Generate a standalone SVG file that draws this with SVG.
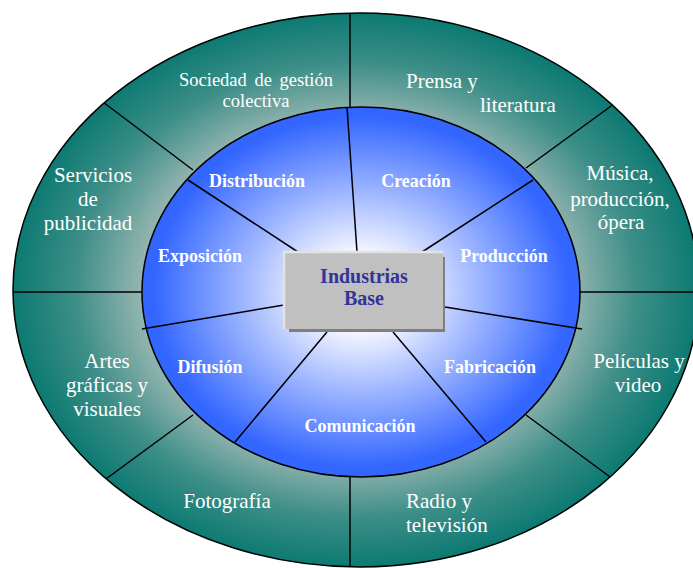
<svg xmlns="http://www.w3.org/2000/svg" width="693" height="568" viewBox="0 0 693 568">
  <defs>
    <radialGradient id="tealGrad" cx="0.5" cy="0.5" r="0.5">
      <stop offset="0" stop-color="#ffffff"/>
      <stop offset="0.6" stop-color="#9bbcb8"/>
      <stop offset="0.66" stop-color="#86aea9"/>
      <stop offset="0.82" stop-color="#3d8e88"/>
      <stop offset="1" stop-color="#0c7a72"/>
    </radialGradient>
    <radialGradient id="blueGrad" cx="0.5" cy="0.5" r="0.5">
      <stop offset="0" stop-color="#ffffff"/>
      <stop offset="0.2" stop-color="#f8f9ff"/>
      <stop offset="0.95" stop-color="#3366ff"/>
      <stop offset="1" stop-color="#3366ff"/>
    </radialGradient>
    <clipPath id="outerClip">
      <path d="M360,13 A339,277 0 0 1 360,567 A347,277 0 0 1 360,13 Z"/>
    </clipPath>
    <style>
      .ln { stroke: #000; stroke-width: 1.5; fill: none; }
      .outer { font-family: "Liberation Serif", "Times New Roman", serif; font-size: 21px; fill: #ffffff; }
      .small { font-size: 18.5px; }
      .inner { font-family: "Liberation Serif", "Times New Roman", serif; font-size: 18px; font-weight: bold; fill: #ffffff; text-anchor: middle; }
      .mid { text-anchor: middle; }
      .core { font-family: "Liberation Serif", "Times New Roman", serif; font-size: 20px; font-weight: bold; fill: #333399; text-anchor: middle; }
    </style>
  </defs>

  <g id="outer-ring">
    <path d="M360,13 A339,277 0 0 1 360,567 A347,277 0 0 1 360,13 Z" fill="url(#tealGrad)" stroke="#000" stroke-width="1.5"/>
  </g>

  <g id="inner-disc">
    <ellipse cx="361" cy="292" rx="219" ry="185" fill="url(#blueGrad)" stroke="#000" stroke-width="1.5"/>
  </g>

  <g id="connectors">
    <g clip-path="url(#outerClip)">
      <line class="ln" x1="350" y1="107" x2="350" y2="0"/>
      <line class="ln" x1="193" y1="170" x2="95" y2="96"/>
      <line class="ln" x1="526" y1="168" x2="640" y2="85"/>
      <line class="ln" x1="142" y1="292" x2="0" y2="292"/>
      <line class="ln" x1="580" y1="292" x2="700" y2="292"/>
      <line class="ln" x1="193" y1="415" x2="95" y2="487"/>
      <line class="ln" x1="526" y1="415" x2="640" y2="499"/>
      <line class="ln" x1="350" y1="477" x2="350" y2="568"/>
    </g>
    <line class="ln" x1="357" y1="252" x2="347" y2="107"/>
    <line class="ln" x1="422" y1="252" x2="533" y2="180"/>
    <line class="ln" x1="445" y1="307" x2="582" y2="329"/>
    <line class="ln" x1="393" y1="332" x2="486" y2="442"/>
    <line class="ln" x1="327" y1="332" x2="235" y2="442"/>
    <line class="ln" x1="284" y1="305" x2="142" y2="329"/>
    <line class="ln" x1="298" y1="252" x2="188" y2="180"/>
  </g>

  <g id="industrias-base">
    <rect x="289" y="257" width="156" height="75" fill="#7f7f7f"/>
    <rect x="284" y="252" width="159" height="77" fill="#c0c0c0"/>
    <path d="M284,329 V252 H443" fill="none" stroke="#e2e2e2" stroke-width="2.5"/>
    <text class="core" x="364" y="283">Industrias</text>
    <text class="core" x="364" y="305">Base</text>
  </g>

  <g id="sociedad">
    <text class="outer small mid" x="256" y="86" word-spacing="3">Sociedad de gestión</text>
    <text class="outer small mid" x="256" y="107">colectiva</text>
  </g>
  <g id="prensa">
    <text class="outer" x="406" y="88">Prensa y</text>
    <text class="outer" x="480" y="112">literatura</text>
  </g>
  <g id="musica">
    <text class="outer mid" x="620" y="180">Música,</text>
    <text class="outer mid" x="620" y="206">producción,</text>
    <text class="outer mid" x="621" y="229">ópera</text>
  </g>
  <g id="servicios">
    <text class="outer mid" x="93" y="182">Servicios</text>
    <text class="outer mid" x="88" y="206">de</text>
    <text class="outer mid" x="88" y="230">publicidad</text>
  </g>
  <g id="artes">
    <text class="outer mid" x="107" y="368">Artes</text>
    <text class="outer mid" x="107" y="392">gráficas y</text>
    <text class="outer mid" x="107" y="416">visuales</text>
  </g>
  <g id="peliculas">
    <text class="outer mid" x="639" y="368">Películas y</text>
    <text class="outer mid" x="638" y="392">video</text>
  </g>
  <g id="fotografia">
    <text class="outer mid" x="227" y="508">Fotografía</text>
  </g>
  <g id="radio">
    <text class="outer" x="406" y="508">Radio y</text>
    <text class="outer" x="406" y="532">televisión</text>
  </g>

  <g id="distribucion"><text class="inner" x="257" y="187">Distribución</text></g>
  <g id="creacion"><text class="inner" x="416" y="187">Creación</text></g>
  <g id="produccion"><text class="inner" x="504" y="262">Producción</text></g>
  <g id="exposicion"><text class="inner" x="200" y="262">Exposición</text></g>
  <g id="difusion"><text class="inner" x="210" y="373">Difusión</text></g>
  <g id="fabricacion"><text class="inner" x="490" y="373">Fabricación</text></g>
  <g id="comunicacion"><text class="inner" x="360" y="432">Comunicación</text></g>
</svg>
